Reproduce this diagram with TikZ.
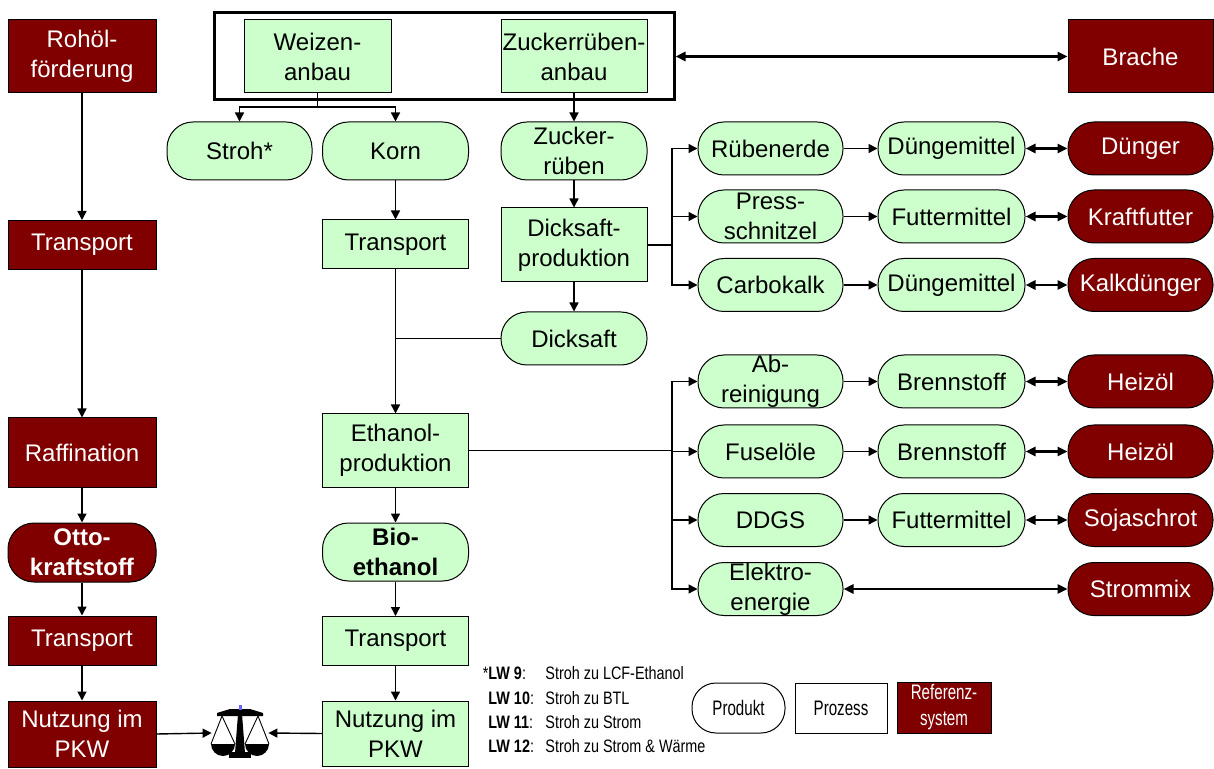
\documentclass[tikz,border=0pt]{standalone}
\usepackage{fontspec}
\setmainfont{Liberation Sans}
\newfontfamily\narrowfont[FakeStretch=0.8]{Liberation Sans}
\newfontfamily\narrowerfont[FakeStretch=0.72]{Liberation Sans}
\usetikzlibrary{arrows.meta}
\definecolor{lgreen}{HTML}{CCFFCC}
\definecolor{dred}{HTML}{800000}
\begin{document}
\begin{tikzpicture}[x=0.5pt,y=-0.5pt,
  base/.style={draw=black, line width=0.5pt, align=center, inner sep=0pt, font=\fontsize{12}{15}\selectfont},
  proc/.style={base, rectangle, fill=lgreen},
  prod/.style={base, rectangle, rounded corners=13pt, fill=lgreen},
  refp/.style={base, rectangle, fill=dred, text=white},
  refr/.style={base, rectangle, rounded corners=13pt, fill=dred, text=white},
  sz/.style 2 args={minimum width=#1*0.5pt, minimum height=#2*0.5pt},
  arr/.style={-{Triangle[length=4.5pt,width=4.5pt]}, line width=0.7pt},
  darr/.style={{Triangle[length=5pt,width=4.5pt]}-{Triangle[length=5pt,width=4.5pt]}, line width=1.4pt},
  ln/.style={line width=0.7pt},
  legtxt/.style={inner sep=0pt, anchor=base west, font=\narrowfont\fontsize{9}{12}\selectfont},
  legbox/.style={font=\narrowerfont\fontsize{10.5}{13}\selectfont}]
\useasboundingbox (0,0) rectangle (1214,769);

% reference chain (left)
\node[refp, sz={148}{73}] (rohoel) at (82,56.5) {Rohöl-\\förderung};
\node[refp, sz={148}{49}] (trA) at (82,245) {Transport};
\node[refp, sz={148}{69}] (raff) at (82,452.5) {Raffination};
\node[refr, sz={148}{59}, font=\bfseries\fontsize{12}{15}\selectfont] (otto) at (82,552.5) {Otto-\\kraftstoff};
\node[refp, sz={148}{49}] (trB) at (82,640.5) {Transport};
\node[refp, sz={148}{66}] (nutzA) at (82,734) {Nutzung im\\PKW};

% cultivation
\node[draw=black, line width=1.5pt, minimum width=230pt, minimum height=43.5pt, inner sep=0pt] (field) at (444,56.5) {};
\node[proc, sz={147}{73}] (wz) at (317.5,56.5) {Weizen-\\anbau};
\node[proc, sz={146}{73}] (zr) at (574,56.5) {Zuckerrüben-\\anbau};
\node[refp, sz={145}{73}] (brache) at (1140.5,56.5) {Brache};

\node[prod, sz={145}{58}] (stroh) at (239.5,151) {Stroh*};
\node[prod, sz={146}{58}] (korn) at (395.5,151) {Korn};
\node[prod, sz={146}{58}] (zrb) at (574,151) {Zucker-\\rüben};
\node[proc, sz={146}{49}] (trC) at (395.5,244.5) {Transport};
\node[proc, sz={146}{74}] (dp) at (574,245) {Dicksaft-\\produktion};
\node[prod, sz={146}{53}] (ds) at (574,338.5) {Dicksaft};
\node[proc, sz={146}{73}] (eth) at (395.5,450.5) {Ethanol-\\produktion};
\node[prod, sz={146}{58}, font=\bfseries\fontsize{12}{15}\selectfont] (bio) at (395.5,552) {Bio-\\ethanol};
\node[proc, sz={146}{49}] (trD) at (395.5,641) {Transport};
\node[proc, sz={146}{65}] (nutzB) at (395.5,733.5) {Nutzung im\\PKW};

% co-products
\node[prod, sz={145}{53}] (c1a) at (770.5,148.5) {Rübenerde};
\node[prod, sz={147}{53}] (c1b) at (951.5,148.5) {Düngemittel};
\node[refr, sz={145}{53}] (c1c) at (1140.5,148.5) {Dünger};
\node[prod, sz={145}{53}] (c2a) at (770.5,216.5) {Press-\\schnitzel};
\node[prod, sz={147}{53}] (c2b) at (951.5,216.5) {Futtermittel};
\node[refr, sz={145}{53}] (c2c) at (1140.5,216.5) {Kraftfutter};
\node[prod, sz={145}{53}] (c3a) at (770.5,285) {Carbokalk};
\node[prod, sz={147}{53}] (c3b) at (951.5,285) {Düngemittel};
\node[refr, sz={145}{53}] (c3c) at (1140.5,285) {Kalkdünger};
\node[prod, sz={145}{53}] (c4a) at (770.5,381.5) {Ab-\\reinigung};
\node[prod, sz={147}{53}] (c4b) at (951.5,381.5) {Brennstoff};
\node[refr, sz={145}{53}] (c4c) at (1140.5,381.5) {Heizöl};
\node[prod, sz={145}{53}] (c5a) at (770.5,451.5) {Fuselöle};
\node[prod, sz={147}{53}] (c5b) at (951.5,451.5) {Brennstoff};
\node[refr, sz={145}{53}] (c5c) at (1140.5,451.5) {Heizöl};
\node[prod, sz={145}{53}] (c6a) at (770.5,520) {DDGS};
\node[prod, sz={147}{53}] (c6b) at (951.5,520) {Futtermittel};
\node[refr, sz={145}{53}] (c6c) at (1140.5,520) {Sojaschrot};
\node[prod, sz={145}{53}] (c7a) at (770.5,589) {Elektro-\\energie};
\node[refr, sz={145}{53}] (c7c) at (1140.5,589) {Strommix};

% scale
\node[inner sep=0pt, minimum width=28pt, minimum height=25pt] (scale) at (240,733) {};
\begin{scope}
  \fill (238,714) -- (242,714) -- (245,753) -- (235,753) -- cycle;
  \fill (229,752) rectangle (251,758);
  \fill (217,713) -- (230,709) -- (250,709) -- (263,713) -- (263,716) -- (217,716) -- cycle;
  \fill[blue!60] (239,705) rectangle (241.5,710);
  \draw[line width=0.45pt] (211,744) -- (222,716) -- (235,744);
  \draw[line width=0.45pt] (245,744) -- (258,716) -- (269,744);
  \fill (235,744) arc[start angle=0, end angle=180, radius=12] -- cycle;
  \fill (269,744) arc[start angle=0, end angle=180, radius=12] -- cycle;
\end{scope}

% legend
\node[legtxt] (l1) at (488,679) {\llap{*}\textbf{LW 9}:};
\node[legtxt] (d1) at (545,679) {Stroh zu LCF-Ethanol};
\node[legtxt] (l2) at (488,704) {\textbf{LW 10}:};
\node[legtxt] (d2) at (545,704) {Stroh zu BTL};
\node[legtxt] (l3) at (488,728) {\textbf{LW 11}:};
\node[legtxt] (d3) at (545,728) {Stroh zu Strom};
\node[legtxt] (l4) at (488,752) {\textbf{LW 12}:};
\node[legtxt] (d4) at (545,752) {Stroh zu Strom \& Wärme};
\node[prod, fill=white, rounded corners=12pt, sz={93}{50}, legbox] (legprod) at (738.5,708) {Produkt};
\node[proc, fill=white, sz={92}{50}, legbox] (legproc) at (841,708) {Prozess};
\node[refp, sz={94}{51}, legbox] (legref) at (944,707.5) {Referenz-\\system};

% connectors: reference chain
\draw[arr] (rohoel) -- (trA);
\draw[arr] (trA) -- (raff);
\draw[arr] (raff) -- (otto);
\draw[arr] (otto) -- (trB);
\draw[arr] (trB) -- (nutzA);
\draw[arr] (nutzA.east) -- (scale.west);
\draw[arr] (nutzB.west) -- (scale.east);

% wheat
\coordinate (wj) at (317.5,107);
\draw[ln] (wz.south) -- (wj);
\draw[arr] (wj) -| (stroh.north);
\draw[arr] (wj) -| (korn.north);
\draw[arr] (korn) -- (trC);
\draw[arr] (trC) -- (eth);
\draw[ln] (ds.west) -- (ds.west -| trC.south);
\draw[arr] (eth) -- (bio);
\draw[arr] (bio) -- (trD);
\draw[arr] (trD) -- (nutzB);

% sugar beet
\draw[arr] (zr) -- (zrb);
\draw[arr] (zrb) -- (dp);
\draw[arr] (dp) -- (ds);
\draw[darr] (field.east) -- (brache.west);

\coordinate (b1) at (672,245);
\draw[ln] (dp.east) -- (b1);
\draw[arr] (b1) |- (c1a.west);
\draw[arr] (b1) |- (c2a.west);
\draw[arr] (b1) |- (c3a.west);

\coordinate (b2) at (672,450.5);
\draw[ln] (eth.east) -- (b2);
\draw[arr] (b2) |- (c4a.west);
\draw[arr] (b2) |- (c5a.west);
\draw[arr] (b2) |- (c6a.west);
\draw[arr] (b2) |- (c7a.west);

\foreach \r in {1,...,6}{
  \draw[arr] (c\r a) -- (c\r b);
  \draw[darr] (c\r b) -- (c\r c);
}
\draw[darr] (c7a) -- (c7c);
\end{tikzpicture}
\end{document}
